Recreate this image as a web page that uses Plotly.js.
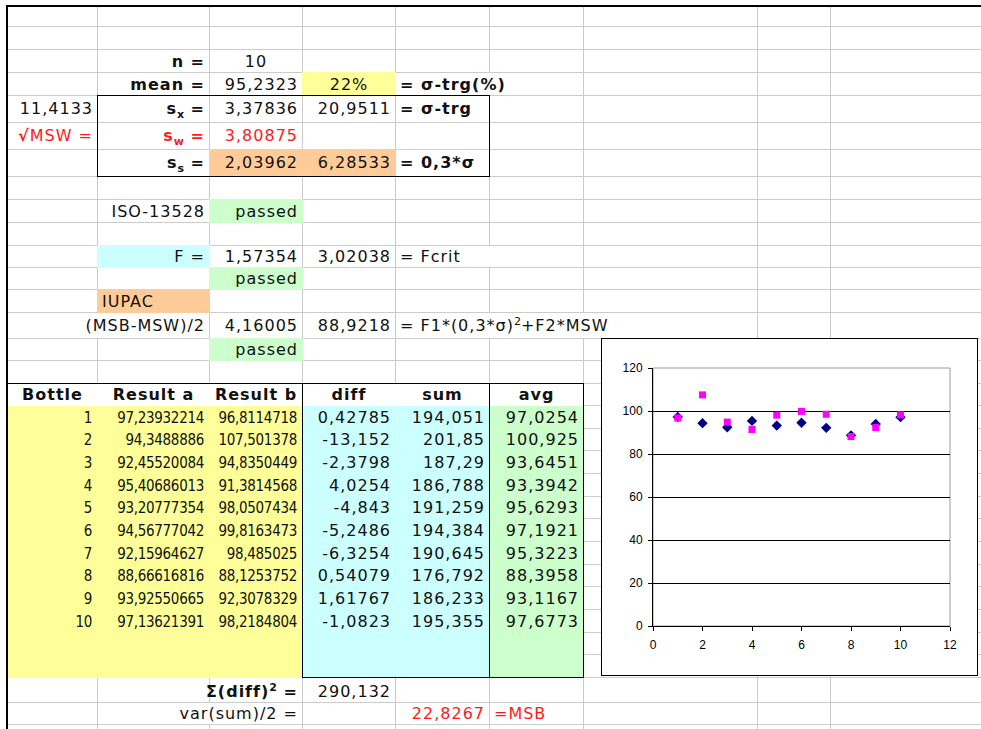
<!DOCTYPE html>
<html>
<head>
<meta charset="utf-8">
<script src="https://cdn.plot.ly/plotly-3.0.1.min.js"></script>
<style>
body { margin:0; background:#fff; width:981px; height:729px; overflow:hidden; position:relative;
       font-family:"DejaVu Sans", Verdana, sans-serif; }
.g { position:absolute; background:#cbcbcb; }
.k { position:absolute; background:#000; }
.f { position:absolute; }
.t { position:absolute; box-sizing:border-box; padding:0 4px 1px 4px; display:flex; align-items:flex-end;
     font-size:16px; letter-spacing:1px; line-height:18px; color:#111; white-space:nowrap; }
.n { font-family:"DejaVu Sans Condensed","Liberation Sans Narrow",sans-serif; font-size:15px; letter-spacing:-0.3px; padding-right:5px; }
.t sub, .t sup { font-size:11px; line-height:0; letter-spacing:0; }
#chart { position:absolute; left:601px; top:338px; width:375px; height:336px; border:1px solid #000; background:#fff; }
</style>
</head>
<body>
<div id="sheet"></div>
<div id="chart"></div>
<script>
// table data
var headers = ["Bottle", "Result a", "Result b", "diff", "sum", "avg"];
var bottles = [1, 2, 3, 4, 5, 6, 7, 8, 9, 10];
var resultA = [97.23932214, 94.3488886, 92.45520084, 95.40686013, 93.20777354,
               94.56777042, 92.15964627, 88.66616816, 93.92550665, 97.13621391];
var resultB = [96.8114718, 107.501378, 94.8350449, 91.3814568, 98.0507434,
               99.8163473, 98.485025, 88.1253752, 92.3078329, 98.2184804];
var diffs = [0.42785, -13.152, -2.3798, 4.0254, -4.843, -5.2486, -6.3254, 0.54079, 1.61767, -1.0823];
var sums = [194.051, 201.85, 187.29, 186.788, 191.259, 194.384, 190.645, 176.792, 186.233, 195.355];
var avgs = [97.0254, 100.925, 93.6451, 93.3942, 95.6293, 97.1921, 95.3223, 88.3958, 93.1167, 97.6773];

// summary block values
var statLabels = ["n =", "mean ="];
var statValues = [10, 95.2323];
var sigmaVals = [3.37836, 3.80875, 2.03962];   // s_x, s_w, s_s
var sigmaTrg = [20.9511, 6.28533];
var fVals = [1.57354, 3.02038];
var iupacVals = [4.16005, 88.9218];
var sumDiff2 = 290.132;
var msb = 22.8267;
var sqrtMsw = 11.4133;

// sheet geometry
var COLS = [7, 97, 209, 302, 395, 489, 583, 757, 830, 1000];
var ROWS = [6, 26, 49, 72, 95, 122, 149, 176, 199, 222, 245, 267, 289, 312, 338, 360, 383, 405];
for (var i = 1; i <= 12; i++) ROWS.push(405 + i * 272 / 12);
ROWS.push(702, 724, 747);

var sheet = document.getElementById('sheet');
function el(cls, x, y, w, h, bg) {
    var d = document.createElement('div');
    d.className = cls;
    d.style.left = x + 'px'; d.style.top = y + 'px';
    d.style.width = w + 'px'; d.style.height = h + 'px';
    if (bg) d.style.background = bg;
    sheet.appendChild(d);
    return d;
}
function fmt(v) { return String(v).replace('.', ','); }

// gridlines
ROWS.slice(1).forEach(function (y) { el('g', 8, Math.round(y), 981, 1); });
COLS.slice(1, -1).forEach(function (x) { el('g', x, 7, 1, 729); });

// fills (cover gridlines like Excel)
function fill(c0, c1, r0, r1, color) {
    var y0 = Math.round(ROWS[r0]), y1 = Math.round(ROWS[r1 + 1]);
    el('f', COLS[c0], y0, COLS[c1 + 1] - COLS[c0] + 1, y1 - y0 + 1, color);
}
var YEL = '#ffff99', CYA = '#ccffff', GRN = '#ccffcc', ORG = '#ffcc99';
fill(3, 3, 3, 3, YEL);
fill(2, 3, 6, 6, ORG);
fill(2, 2, 8, 8, GRN);
fill(1, 1, 10, 10, CYA);
fill(2, 2, 11, 11, GRN);
fill(1, 1, 12, 12, ORG);
fill(2, 2, 14, 14, GRN);
fill(0, 2, 17, 28, YEL);
fill(3, 4, 17, 28, CYA);
fill(5, 5, 17, 28, GRN);
fill(0, 5, 16, 16, '#fff');

// text cells
function put(c0, c1, r, html, o) {
    o = o || {};
    var y0 = Math.round(ROWS[r]), y1 = Math.round(ROWS[r + 1]);
    var d = el('t' + (o.narrow ? ' n' : ''), COLS[c0] + 1, y0 + 1, COLS[c1 + 1] - COLS[c0] - 1, y1 - y0 - 1,
               o.bg || (c1 > c0 ? '#fff' : null));
    d.innerHTML = '<span>' + html + '</span>';
    d.style.justifyContent = o.align === 'left' ? 'flex-start' : (o.align === 'center' ? 'center' : 'flex-end');
    if (o.bold) d.style.fontWeight = 'bold';
    if (o.color) d.style.color = o.color;
    if (o.pb != null) d.style.paddingBottom = o.pb + 'px';
}
var RED = '#ff1a1a';
put(1, 1, 2, statLabels[0], {bold: true});
put(2, 2, 2, fmt(statValues[0]), {align: 'center'});
put(1, 1, 3, statLabels[1], {bold: true});
put(2, 2, 3, fmt(statValues[1]));
put(3, 3, 3, '22%', {align: 'center', bg: YEL});
put(4, 5, 3, '= σ-trg(%)', {align: 'left', bold: true});

put(0, 0, 4, fmt(sqrtMsw), {pb: 4});
put(1, 1, 4, 's<sub>x</sub> =', {bold: true, pb: 4});
put(2, 2, 4, fmt(sigmaVals[0]), {pb: 4});
put(3, 3, 4, fmt(sigmaTrg[0]), {pb: 4});
put(4, 4, 4, '= σ-trg', {align: 'left', bold: true, pb: 4});

put(0, 0, 5, '<b>√</b>MSW =', {color: RED, pb: 4});
put(1, 1, 5, 's<sub>w</sub> =', {bold: true, color: RED, pb: 4});
put(2, 2, 5, fmt(sigmaVals[1]), {color: RED, pb: 4});

put(1, 1, 6, 's<sub>s</sub> =', {bold: true, pb: 4});
put(2, 2, 6, fmt(sigmaVals[2]), {bg: ORG, pb: 4});
put(3, 3, 6, fmt(sigmaTrg[1]), {bg: ORG, pb: 4});
put(4, 4, 6, '= 0,3*σ', {align: 'left', bold: true, pb: 4});

put(1, 1, 8, 'ISO-13528');
put(2, 2, 8, 'passed', {bg: GRN});
put(1, 1, 10, 'F =', {bg: CYA});
put(2, 2, 10, fmt(fVals[0]));
put(3, 3, 10, fmt(fVals[1]));
put(4, 5, 10, '= Fcrit', {align: 'left'});
put(2, 2, 11, 'passed', {bg: GRN});
put(1, 1, 12, 'IUPAC', {align: 'left', bg: ORG});
put(0, 1, 13, '(MSB-MSW)/2', {pb: 3});
put(2, 2, 13, fmt(iupacVals[0]), {pb: 3});
put(3, 3, 13, fmt(iupacVals[1]), {pb: 3});
put(4, 6, 13, '= F1*(0,3*σ)<sup>2</sup>+F2*MSW', {align: 'left', pb: 3});
put(2, 2, 14, 'passed', {bg: GRN});

// data table
headers.forEach(function (h, j) { put(j, j, 16, h, {align: 'center', bold: true, bg: '#fff'}); });
bottles.forEach(function (b, i) {
    var r = 17 + i;
    put(0, 0, r, fmt(b), {narrow: true});
    put(1, 1, r, fmt(resultA[i]), {narrow: true});
    put(2, 2, r, fmt(resultB[i]), {narrow: true});
    put(3, 3, r, fmt(diffs[i]));
    put(4, 4, r, fmt(sums[i]));
    put(5, 5, r, fmt(avgs[i]));
});
put(2, 2, 29, 'Σ(diff)<sup>2</sup> =', {bold: true});
put(3, 3, 29, fmt(sumDiff2));
put(1, 2, 30, 'var(sum)/2 =');
put(4, 4, 30, fmt(msb), {color: RED});
put(5, 5, 30, '=MSB', {align: 'left', color: RED});

// black borders
el('k', 97, 95, 392, 1); el('k', 97, 176, 393, 1);
el('k', 97, 95, 1, 81); el('k', 489, 95, 1, 81);
el('k', 7, 383, 577, 1);
el('k', 302, 383, 1, 295); el('k', 489, 383, 1, 295); el('k', 583, 383, 1, 295);
el('k', 302, 677, 282, 1);
// outer thick frame
el('k', 6, 5, 975, 2); el('k', 6, 5, 2, 724);

// chart
var data = [{
    type: 'scatter', mode: 'markers', name: 'Result a',
    x: bottles, y: resultA,
    marker: {symbol: 'diamond', size: 8, color: '#000080'}
}, {
    type: 'scatter', mode: 'markers', name: 'Result b',
    x: bottles, y: resultB,
    marker: {symbol: 'square', size: 7, color: '#ff00ff'}
}];

var layout = {
    width: 375, height: 336,
    margin: {l: 51, r: 27, t: 29, b: 49},
    showlegend: false,
    paper_bgcolor: '#fff', plot_bgcolor: '#fff',
    font: {family: 'Liberation Sans, Arial, sans-serif', size: 12, color: '#000'},
    xaxis: {range: [0, 12], tick0: 0, dtick: 2, ticks: 'outside', ticklen: 4, tickcolor: '#000',
            showline: true, linecolor: '#000', showgrid: false, zeroline: false, ticklabelstandoff: 4},
    yaxis: {range: [0, 120], tick0: 0, dtick: 20, ticks: 'outside', ticklen: 4, tickcolor: '#000',
            showline: true, linecolor: '#000', showgrid: true, gridcolor: '#000', gridwidth: 1,
            zeroline: false, ticklabelstandoff: 3},
    shapes: [{type: 'rect', xref: 'paper', yref: 'paper', x0: 0, x1: 1, y0: 0, y1: 1,
              line: {color: '#9a9a9a', width: 1}, layer: 'below'}]
};

Plotly.newPlot('chart', data, layout, {staticPlot: true, displayModeBar: false});
</script>
</body>
</html>
